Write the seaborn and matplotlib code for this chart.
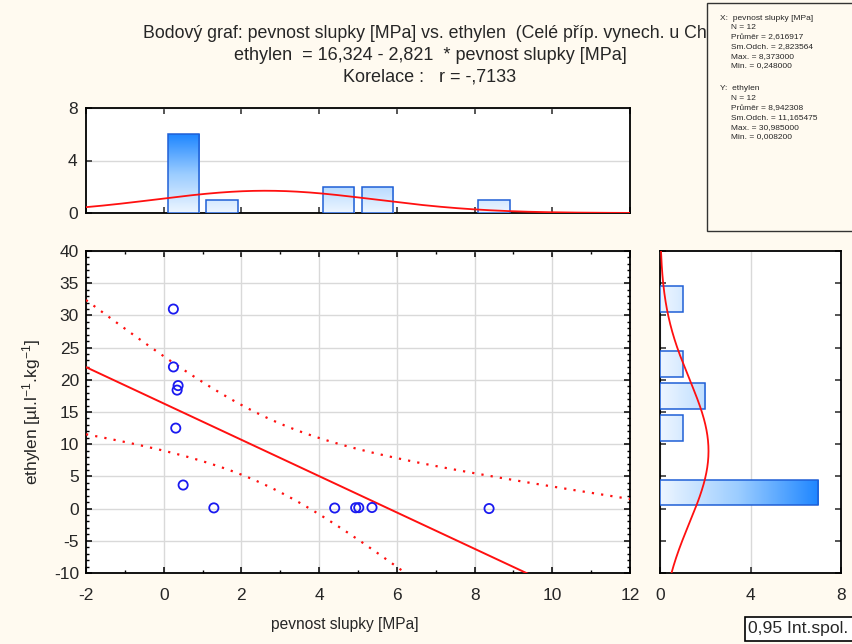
import numpy as np
import pandas as pd
import matplotlib
matplotlib.use("Agg")
import matplotlib.pyplot as plt
import seaborn as sns
from matplotlib.colors import LinearSegmentedColormap
from matplotlib.patches import Rectangle

# ---------------- data ----------------
pevnost = [0.248, 0.250, 0.370, 0.345, 0.310, 0.500, 1.290, 4.400, 4.940, 5.020, 5.360, 8.373]
ethylen = [30.985, 22.00, 19.10, 18.40, 12.50, 3.66, 0.11, 0.09, 0.13, 0.15, 0.17, 0.0082]

INTERCEPT = 16.324
SLOPE = -2.821
T_975_DF10 = 2.228

X_MEAN, X_SD = 2.616917, 2.823564
Y_MEAN, Y_SD = 8.942308, 11.165475

title_lines = [
    "Bodový graf: pevnost slupky [MPa] vs. ethylen  (Celé příp. vynech. u ChD)",
    "ethylen  = 16,324 - 2,821  * pevnost slupky [MPa]",
    "Korelace :   r = -,7133",
]
x_stats = ["X:  pevnost slupky [MPa]", "N = 12", "Průměr = 2,616917",
           "Sm.Odch. = 2,823564", "Max. = 8,373000", "Min. = 0,248000"]
y_stats = ["Y:  ethylen", "N = 12", "Průměr = 8,942308",
           "Sm.Odch. = 11,165475", "Max. = 30,985000", "Min. = 0,008200"]

x_label = "pevnost slupky [MPa]"
y_label = r"ethylen [µl.l$^{-1}$.kg$^{-1}$]"
ci_label = "0,95 Int.spol."

# ---------------- style ----------------
sns.set_style("ticks")
plt.rcParams["font.family"] = ["Liberation Sans", "DejaVu Sans"]
plt.rcParams["mathtext.fontset"] = "custom"
plt.rcParams["mathtext.rm"] = "Liberation Sans"
plt.rcParams["mathtext.it"] = "Liberation Sans"
plt.rcParams["mathtext.bf"] = "Liberation Sans"
plt.rcParams["axes.unicode_minus"] = False

BG = "#FFFAF0"
GRID = "#D9D9D9"
RED = "#FF1010"
BLUE_PT = "#1A1AF0"
BAR_EDGE = "#1F5FD6"
cmap = LinearSegmentedColormap.from_list("bars", ["#EEF6FF", "#9ACCFF", "#1E86FF"])

W, H = 852, 644
fig = plt.figure(figsize=(W / 100, H / 100), dpi=100, facecolor=BG)


def frac(l, t, r, b):
    return [l / W, 1 - b / H, (r - l) / W, (b - t) / H]


ax = fig.add_axes(frac(86, 251, 630, 573))
axt = fig.add_axes(frac(86, 108, 630, 213))
axr = fig.add_axes(frac(660, 251, 841, 573))

TICK_FS = 12.5
for a in (ax, axt, axr):
    a.set_facecolor("white")
    for s in a.spines.values():
        s.set_visible(True)
        s.set_color("black")
        s.set_linewidth(1.3)

# ---------------- scatter ----------------
df = pd.DataFrame({"pevnost": pevnost, "ethylen": ethylen})
xa = np.array(pevnost)
ya = np.array(ethylen)

xs = np.linspace(-2, 12, 300)
fit = INTERCEPT + SLOPE * xs
resid = ya - (INTERCEPT + SLOPE * xa)
n = len(xa)
s_res = np.sqrt(np.sum(resid ** 2) / (n - 2))
sxx = np.sum((xa - xa.mean()) ** 2)
half = T_975_DF10 * s_res * np.sqrt(1 / n + (xs - xa.mean()) ** 2 / sxx)

ax.plot(xs, fit, color=RED, lw=1.4, zorder=3)
ax.plot(xs, fit + half, color=RED, lw=1.6, ls=(0, (1, 3.2)), zorder=3)
ax.plot(xs, fit - half, color=RED, lw=1.6, ls=(0, (1, 3.2)), zorder=3)

sns.scatterplot(data=df, x="pevnost", y="ethylen", ax=ax, marker="o", s=44, zorder=5)
coll = ax.collections[-1]
coll.set_facecolor("none")
coll.set_edgecolor(BLUE_PT)
coll.set_linewidth(1.3)

ax.set_xlim(-2, 12)
ax.set_ylim(-10, 40)
ax.set_xticks(np.arange(-2, 13, 2))
ax.set_xticks(np.arange(-2, 13, 1), minor=True)
ax.set_yticks(np.arange(-10, 41, 5))
ax.set_yticks(np.arange(-10, 41, 1), minor=True)
ax.grid(True, which="major", color=GRID, lw=1.0)
ax.set_axisbelow(True)
ax.tick_params(which="both", direction="in", top=True, right=True, color="black")
ax.tick_params(which="major", length=4, width=1.1, labelsize=TICK_FS)
ax.tick_params(which="minor", length=2, width=1.0)
ax.tick_params(axis="x", pad=11)
ax.tick_params(axis="y", pad=5)
ax.set_xlabel("")
ax.set_ylabel(y_label, fontsize=12.5, labelpad=8)

# ---------------- histograms ----------------
def gradient_bars(a, horizontal, vmax):
    for p in list(a.patches):
        if not isinstance(p, Rectangle):
            continue
        x0, y0 = p.get_x(), p.get_y()
        w, h = p.get_width(), p.get_height()
        if (h if not horizontal else w) <= 0:
            continue
        p.set_facecolor("none")
        p.set_edgecolor(BAR_EDGE)
        p.set_linewidth(1.1)
        p.set_zorder(3)
        if horizontal:
            grad = np.linspace(x0 / vmax, (x0 + w) / vmax, 256).reshape(1, -1)
        else:
            grad = np.linspace(y0 / vmax, (y0 + h) / vmax, 256).reshape(-1, 1)
        im = a.imshow(grad, extent=[x0, x0 + w, y0, y0 + h], origin="lower",
                      cmap=cmap, vmin=0, vmax=1, aspect="auto", zorder=2.9,
                      interpolation="bilinear")
        im.set_clip_path(p)


sns.histplot(x=pevnost, binwidth=1, binrange=(0, 9), shrink=0.8, ax=axt, stat="count")
gradient_bars(axt, horizontal=False, vmax=6)
xt = np.linspace(-2, 12, 300)
axt.plot(xt, n * 1.0 * np.exp(-0.5 * ((xt - X_MEAN) / X_SD) ** 2) / (X_SD * np.sqrt(2 * np.pi)),
         color=RED, lw=1.3, zorder=4)
axt.set_xlim(-2, 12)
axt.set_ylim(0, 8)
axt.set_xticks(np.arange(-2, 13, 2))
axt.set_yticks([0, 4, 8])
axt.set_xticklabels([])
axt.grid(True, axis="y", color=GRID, lw=1.0)
axt.set_axisbelow(True)
axt.tick_params(which="both", direction="in", top=True, length=4, width=1.1, labelsize=TICK_FS)
axt.tick_params(axis="y", pad=6)
axt.set_xlabel("")
axt.set_ylabel("")

sns.histplot(y=ethylen, binwidth=5, binrange=(0, 35), shrink=0.8, ax=axr, stat="count")
gradient_bars(axr, horizontal=True, vmax=7)
yr = np.linspace(-10, 40, 300)
axr.plot(n * 5.0 * np.exp(-0.5 * ((yr - Y_MEAN) / Y_SD) ** 2) / (Y_SD * np.sqrt(2 * np.pi)), yr,
         color=RED, lw=1.3, zorder=4)
axr.set_xlim(0, 8)
axr.set_ylim(-10, 40)
axr.set_xticks([0, 4, 8])
axr.set_yticks(np.arange(-10, 41, 5))
axr.set_yticklabels([])
axr.grid(True, axis="x", color=GRID, lw=1.0)
axr.set_axisbelow(True)
axr.tick_params(which="both", direction="in", right=True, length=4, width=1.1, labelsize=TICK_FS)
axr.tick_params(axis="x", pad=11)
axr.set_xlabel("")
axr.set_ylabel("")

# ---------------- texts ----------------
title_centers = [434, 430, 430]
title_sizes = [12.8, 13, 13]
for i, line in enumerate(title_lines):
    fig.text(title_centers[i] / W, 1 - (33 + 22 * i) / H, line, ha="center", va="center",
             fontsize=title_sizes[i], zorder=1)

fig.text(345 / W, 1 - 625 / H, x_label, ha="center", va="center", fontsize=11.2)

# stats box (covers the end of the title)
box = Rectangle((707 / W, 1 - 231 / H), 1.0, 228 / H, transform=fig.transFigure,
                facecolor=BG, edgecolor="#333333", lw=1.0, zorder=10)
fig.add_artist(box)
y0 = 18
for i, line in enumerate(x_stats):
    fig.text((720 if i == 0 else 731) / W, 1 - (y0 + 9.6 * i) / H, line,
             fontsize=6.0, va="center", ha="left", zorder=11)
y1 = 89
for i, line in enumerate(y_stats):
    fig.text((720 if i == 0 else 731) / W, 1 - (y1 + 9.6 * i) / H, line,
             fontsize=6.0, va="center", ha="left", zorder=11)

cbox = Rectangle((745 / W, 1 - 641 / H), 1.0, 24 / H, transform=fig.transFigure,
                 facecolor="white", edgecolor="black", lw=1.2, zorder=10)
fig.add_artist(cbox)
fig.text(748 / W, 1 - 629 / H, ci_label, fontsize=12.6, va="center", ha="left", zorder=11)

fig.savefig("out.png", dpi=100, facecolor=BG)
